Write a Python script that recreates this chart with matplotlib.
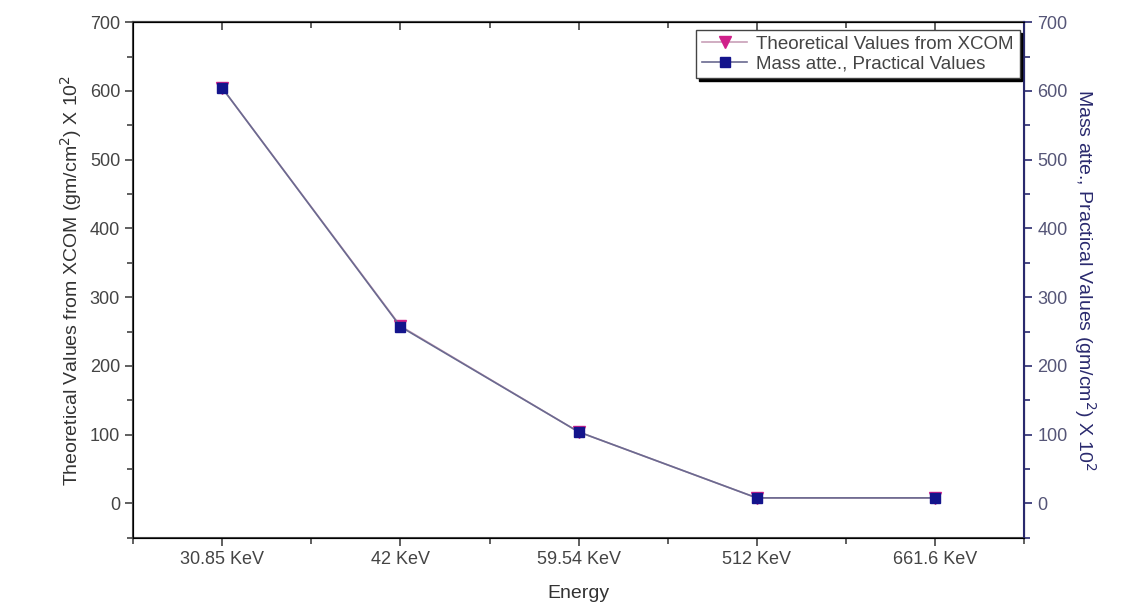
import matplotlib.pyplot as plt
from matplotlib.ticker import MultipleLocator

plt.rcParams['font.family'] = ['Liberation Sans', 'DejaVu Sans']

energies = ['30.85 KeV', '42 KeV', '59.54 KeV', '512 KeV', '661.6 KeV']
theoretical = [604, 258, 104, 8, 8]
practical = [604, 257, 104, 8, 8]

navy = '#2a2a6e'
grey = '#444444'

fig = plt.figure(figsize=(11.39, 6.16), dpi=100)
ax = fig.add_axes([0.117, 0.127, 0.782, 0.837])
ax2 = ax.twinx()

x = list(range(1, len(energies) + 1))
l1, = ax.plot(x, theoretical, '-', color='#c8a0b8', lw=1.2,
              marker='v', ms=8, mfc='#d0208a', mec='#d0208a')
l2, = ax2.plot(x, practical, '-', color='#6a6a90', lw=1.2,
               marker='s', ms=7, mfc='#14148c', mec='#14148c')

for a in (ax, ax2):
    a.set_ylim(-50, 700)
    a.yaxis.set_major_locator(MultipleLocator(100))
    a.yaxis.set_minor_locator(MultipleLocator(50))
ax.set_xlim(0.5, 5.5)
ax.set_xticks(x)
ax.set_xticklabels(energies)
ax.xaxis.set_minor_locator(MultipleLocator(0.5))

ax.tick_params(axis='both', which='major', length=6, width=1.2, labelsize=13,
               colors=grey)
ax.tick_params(axis='both', which='minor', length=4, width=1.2, colors=grey)

# top axis: inward ticks, no labels
top = ax.secondary_xaxis('top')
top.set_xticks(x)
top.xaxis.set_minor_locator(MultipleLocator(0.5))
top.tick_params(which='both', direction='in', labeltop=False, width=1.2,
                colors=grey)
top.tick_params(which='major', length=6)
top.tick_params(which='minor', length=4)
top.spines['top'].set_linewidth(1.5)
top.spines['top'].set_color(grey)

ax2.tick_params(axis='y', which='major', length=6, width=1.2, labelsize=13,
                colors=navy, labelcolor='#555577')
ax2.tick_params(axis='y', which='minor', length=4, width=1.2, colors=navy)

for s in ('left', 'bottom', 'top'):
    ax.spines[s].set_linewidth(1.5)
    ax.spines[s].set_color(grey)
ax2.spines['right'].set_linewidth(1.5)
ax2.spines['right'].set_color(navy)

ax.set_xlabel('Energy', fontsize=14, color='#333333', labelpad=12)
ax.set_ylabel('Theoretical Values from XCOM (gm/cm$^2$) X 10$^2$',
              fontsize=14, color='#333333')
ax2.set_ylabel('Mass atte., Practical Values (gm/cm$^2$) X 10$^2$',
               fontsize=14, color=navy, rotation=270, labelpad=22)

leg = ax2.legend([l1, l2], ['Theoretical Values from XCOM',
                            'Mass atte., Practical Values'],
                 loc='upper right', bbox_to_anchor=(0.995, 0.985),
                 fontsize=13.5, frameon=True, fancybox=False,
                 shadow={'color': 'black', 'alpha': 1.0},
                 borderpad=0.3, handlelength=2.4, handletextpad=0.5,
                 labelspacing=0.15, borderaxespad=0.0)
leg.get_frame().set_edgecolor(grey)
leg.get_frame().set_alpha(1.0)
for t in leg.get_texts():
    t.set_color(grey)

fig.savefig('out.png', dpi=100)
